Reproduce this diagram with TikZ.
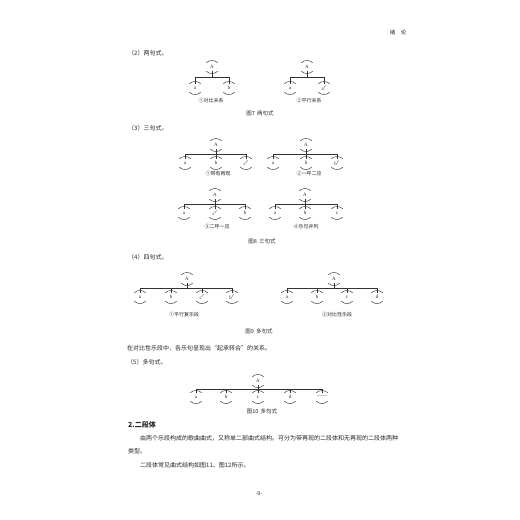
\documentclass[tikz,border=0pt]{standalone}
\usepackage{fontspec}
\setmainfont{Liberation Serif}
\newfontfamily\cjk{Noto Sans CJK SC}
\usepackage{tikz}

\tikzset{
	phrase/.style={minimum width=11pt, minimum height=8pt, inner sep=0pt, text=black!85,
		font=\fontsize{5}{6}\selectfont,
		append after command={
			(\tikzlastnode.north west) edge[bend left=45, draw=black!80, line width=0.45pt] (\tikzlastnode.north east)
			(\tikzlastnode.south west) edge[bend right=45, draw=black!80, line width=0.45pt] (\tikzlastnode.south east)}},
	treeline/.style={draw=black!80, line width=0.45pt},
	body/.style={font=\cjk\fontsize{6}{7}\selectfont, text=black!85, inner sep=0pt, anchor=west},
	sublabel/.style={font=\cjk\fontsize{5}{6}\selectfont, text=black!85, inner sep=0pt},
	figcap/.style={font=\cjk\fontsize{5.5}{6}\selectfont, text=black!85, inner sep=0pt}
}

\begin{document}
\begin{tikzpicture}[x=1pt,y=-1pt]
	\useasboundingbox[fill=white] (0,0) rectangle (520,520);
	
	\node[figcap] (head) at (398,32) {绪\quad 论};
	
	% (2)
	\node[body] (s2) at (128,53) {（2）两句式。};
	\node[phrase] (t1A) at (212,67) {A};
	\node[phrase] (t1a) at (195,88) {a};
	\node[phrase] (t1b) at (229,88) {b};
	\draw[treeline] (t1a.north) -- ++(0,-7) coordinate (t1l) -| (t1b.north);
	\draw[treeline] (t1A.south) -- (t1A |- t1l);
	\node[sublabel] (l1) at (211,101) {①对比关系};
	
	\node[phrase] (t2A) at (307,67) {A};
	\node[phrase] (t2a) at (290,88) {a};
	\node[phrase] (t2b) at (324,88) {a$'$};
	\draw[treeline] (t2a.north) -- ++(0,-7) coordinate (t2l) -| (t2b.north);
	\draw[treeline] (t2A.south) -- (t2A |- t2l);
	\node[sublabel] (l2) at (309,101) {②平行关系};
	\node[figcap] (c7) at (260,113) {图7\, 两句式};
	
	% (3)
	\node[body] (s3) at (128,128) {（3）三句式。};
	\node[phrase] (t3A) at (216,145) {A};
	\node[phrase] (t3a) at (185,163) {a};
	\node[phrase] (t3b) at (216,163) {b};
	\node[phrase] (t3c) at (246,163) {c$'$};
	\draw[treeline] (t3a.north) -- ++(0,-5) coordinate (t3l) -| (t3c.north);
	\draw[treeline] (t3A.south) -- (t3b.north);
	\node[sublabel] (l3) at (218,174) {①带有再现};
	
	\node[phrase] (t4A) at (306,145) {A};
	\node[phrase] (t4a) at (273,163) {a};
	\node[phrase] (t4b) at (306,163) {b};
	\node[phrase] (t4c) at (337,163) {b$'$};
	\draw[treeline] (t4a.north) -- ++(0,-5) coordinate (t4l) -| (t4c.north);
	\draw[treeline] (t4A.south) -- (t4b.north);
	\node[sublabel] (l4) at (309,174) {②一呼二应};
	
	\node[phrase] (t5A) at (215,195) {A};
	\node[phrase] (t5a) at (184,213) {a};
	\node[phrase] (t5b) at (215,213) {c$'$};
	\node[phrase] (t5c) at (245,213) {b};
	\draw[treeline] (t5a.north) -- ++(0,-5) coordinate (t5l) -| (t5c.north);
	\draw[treeline] (t5A.south) -- (t5b.north);
	\node[sublabel] (l5) at (217,227) {③二呼一应};
	
	\node[phrase] (t6A) at (305,195) {A};
	\node[phrase] (t6a) at (275,213) {a};
	\node[phrase] (t6b) at (305,213) {b};
	\node[phrase] (t6c) at (337,213) {c};
	\draw[treeline] (t6a.north) -- ++(0,-5) coordinate (t6l) -| (t6c.north);
	\draw[treeline] (t6A.south) -- (t6b.north);
	\node[sublabel] (l6) at (306,227) {④乐句并列};
	\node[figcap] (c8) at (262,241) {图8\, 三句式};
	
	% (4)
	\node[body] (s4) at (128,257) {（4）四句式。};
	\node[phrase] (t7A) at (187,279) {A};
	\node[phrase] (t7a) at (140,297) {a};
	\node[phrase] (t7b) at (171,297) {b};
	\node[phrase] (t7c) at (202,297) {c$'$};
	\node[phrase] (t7d) at (232,297) {b$'$};
	\draw[treeline] (t7a.north) -- ++(0,-5) coordinate (t7l) -| (t7d.north);
	\draw[treeline] (t7b.north) -- (t7b |- t7l);
	\draw[treeline] (t7c.north) -- (t7c |- t7l);
	\draw[treeline] (t7A.south) -- (t7A |- t7l);
	\node[sublabel] (l7) at (184,315) {①平行复乐段};
	
	\node[phrase] (t8A) at (334,279) {A};
	\node[phrase] (t8a) at (287,297) {a};
	\node[phrase] (t8b) at (317,297) {b};
	\node[phrase] (t8c) at (347,297) {c};
	\node[phrase] (t8d) at (377,297) {d};
	\draw[treeline] (t8a.north) -- ++(0,-5) coordinate (t8l) -| (t8d.north);
	\draw[treeline] (t8b.north) -- (t8b |- t8l);
	\draw[treeline] (t8c.north) -- (t8c |- t8l);
	\draw[treeline] (t8A.south) -- (t8A |- t8l);
	\node[sublabel] (l8) at (337,315) {②对比性乐段};
	\node[figcap] (c9) at (259,331) {图9\, 多句式};
	
	\node[body] (p1) at (127,348) {在对比性乐段中，各乐句呈现出“起承转合”的关系。};
	\node[body] (s5) at (127,362) {（5）多句式。};
	
	% (5)
	\node[phrase] (t9A) at (258,381) {A};
	\node[phrase] (t9a) at (196,397) {a};
	\node[phrase] (t9b) at (226,397) {b};
	\node[phrase] (t9c) at (258,397) {c};
	\node[phrase] (t9d) at (290,397) {d};
	\node[phrase] (t9e) at (322,397) {——};
	\draw[treeline] (t9a.north) -- ++(0,-4) coordinate (t9l) -| (t9e.north);
	\draw[treeline] (t9b.north) -- (t9b |- t9l);
	\draw[treeline] (t9d.north) -- (t9d |- t9l);
	\draw[treeline] (t9A.south) -- (t9c.north);
	\node[figcap] (c10) at (262,411) {图10\, 多句式};
	
	\node[body, font=\cjk\bfseries\fontsize{7}{8}\selectfont] (h2) at (128,425) {2.二段体};
	\node[body] (p2) at (140,438) {由两个乐段构成的歌曲曲式，又称单二部曲式结构。可分为带再现的二段体和无再现的二段体两种};
	\node[body] (p3) at (128,451) {类型。};
	\node[body] (p4) at (140,465) {二段体常见曲式结构如图11、图12所示。};
	
	\node[figcap] (page) at (259,494) {-9-};
\end{tikzpicture}
\end{document}
